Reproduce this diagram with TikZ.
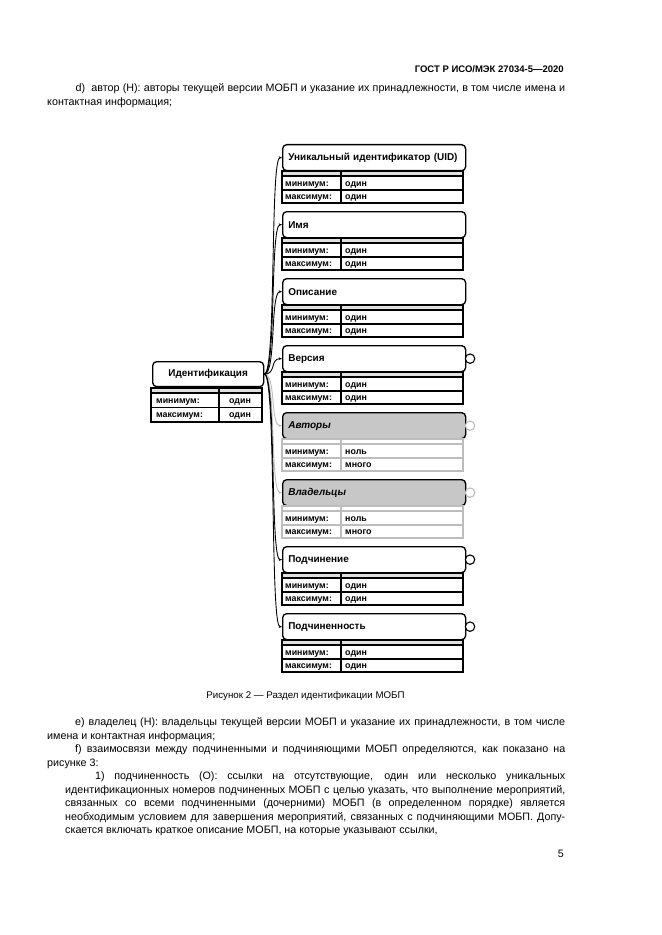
\documentclass[tikz,border=0pt]{standalone}
\usepackage{fontspec}
\setmainfont{Liberation Sans}
\usetikzlibrary{arrows.meta,positioning}
\definecolor{stripgrey}{gray}{0.88}
\definecolor{optgrey}{gray}{0.78}
\definecolor{lightline}{gray}{0.74}
\hyphenpenalty=10000

\begin{document}
\begin{tikzpicture}[x=0.3177mm,y=-0.3177mm,
  hdr/.style={draw,line width=1.2pt,rounded corners=1.3mm,fill=white,anchor=north west,
    minimum height=0.826cm,text width=5.454cm,inner xsep=0.18cm,align=left,
    font=\fontsize{9}{10}\selectfont\bfseries},
  opthdr/.style={hdr,fill=optgrey,font=\fontsize{9}{10}\selectfont\bfseries\itshape},
  tbl/.style={line width=1pt},
  opttbl/.style={line width=1pt,draw=lightline},
  strip/.style={fill=stripgrey},
  cell/.style={anchor=base west,inner sep=0pt,font=\fontsize{8}{8}\selectfont\bfseries},
  port/.style={circle,draw,line width=1pt,fill=white,minimum size=3mm,inner sep=0pt},
  optport/.style={port,draw=lightline},
  conn/.style={line width=0.8pt,-{Stealth[length=3pt,width=2.5pt]}},
  optconn/.style={conn,draw=lightline},
  body/.style={anchor=base west,inner sep=0pt,text width=16.457cm,align=justify,
    font=\fontsize{9.7}{12.25}\selectfont},
  subitem/.style={body,text width=15.885cm}]
\useasboundingbox (0,0) rectangle (661,935);

% page text
\node[anchor=base east,inner sep=0pt,font=\fontsize{8.6}{10}\selectfont\bfseries] (gost) at (564,72.5) {ГОСТ Р ИСО/МЭК 27034-5—2020};
\node[body] (pd) at (47,91.5) {\hspace*{0.9cm}d)\ \ автор (Н): авторы текущей версии МОБП и указание их принадлежности, в том числе имена и\linebreak контактная информация;};

% Identification
\node[hdr,text width=3.167cm,minimum height=0.794cm,align=center] (ident) at (152,361) {Идентификация};
\fill[strip] (151,388) rectangle (262,393);
\draw[tbl] (151,388) rectangle (262,422) (151,393) -- (262,393) (151,407.5) -- (262,407.5) (219,388) -- (219,422);
\node[cell] (ident-min) at (156,403) {минимум:};
\node[cell,anchor=base] (ident-minv) at (240,403) {один};
\node[cell] (ident-max) at (156,417.5) {максимум:};
\node[cell,anchor=base] (ident-maxv) at (240,417.5) {один};

% UID
\begin{scope}[shift={(0,144)}]
\node[hdr] (uid) at (282,0) {Уникальный идентификатор (UID)};
\fill[strip] (282,27) rectangle (463,32);
\draw[tbl] (282,27) rectangle (463,59) (282,32) -- (463,32) (282,46) -- (463,46) (341,27) -- (341,59);
\node[cell] (uid-min) at (285,42) {минимум:};
\node[cell] (uid-minv) at (345,42) {один};
\node[cell] (uid-max) at (285,55.5) {максимум:};
\node[cell] (uid-maxv) at (345,55.5) {один};
\end{scope}

% Name
\begin{scope}[shift={(0,211)}]
\node[hdr] (name) at (282,0) {Имя};
\fill[strip] (282,27) rectangle (463,32);
\draw[tbl] (282,27) rectangle (463,59) (282,32) -- (463,32) (282,46) -- (463,46) (341,27) -- (341,59);
\node[cell] (name-min) at (285,42) {минимум:};
\node[cell] (name-minv) at (345,42) {один};
\node[cell] (name-max) at (285,55.5) {максимум:};
\node[cell] (name-maxv) at (345,55.5) {один};
\end{scope}

% Description
\begin{scope}[shift={(0,278)}]
\node[hdr] (descr) at (282,0) {Описание};
\fill[strip] (282,27) rectangle (463,32);
\draw[tbl] (282,27) rectangle (463,59) (282,32) -- (463,32) (282,46) -- (463,46) (341,27) -- (341,59);
\node[cell] (descr-min) at (285,42) {минимум:};
\node[cell] (descr-minv) at (345,42) {один};
\node[cell] (descr-max) at (285,55.5) {максимум:};
\node[cell] (descr-maxv) at (345,55.5) {один};
\end{scope}

% Version
\begin{scope}[shift={(0,345)}]
\node[hdr] (version) at (282,0) {Версия};
\node[port,right=-0.5mm of version] (version-p) {};
\fill[strip] (282,27) rectangle (463,32);
\draw[tbl] (282,27) rectangle (463,59) (282,32) -- (463,32) (282,46) -- (463,46) (341,27) -- (341,59);
\node[cell] (version-min) at (285,42) {минимум:};
\node[cell] (version-minv) at (345,42) {один};
\node[cell] (version-max) at (285,55.5) {максимум:};
\node[cell] (version-maxv) at (345,55.5) {один};
\end{scope}

% Authors (optional)
\begin{scope}[shift={(0,412)}]
\node[opthdr] (authors) at (282,0) {Авторы};
\node[optport,right=-0.5mm of authors] (authors-p) {};
\draw[opttbl] (282,27) rectangle (463,59) (282,32) -- (463,32) (282,46) -- (463,46) (341,27) -- (341,59);
\node[cell] (authors-min) at (285,42) {минимум:};
\node[cell] (authors-minv) at (345,42) {ноль};
\node[cell] (authors-max) at (285,55.5) {максимум:};
\node[cell] (authors-maxv) at (345,55.5) {много};
\end{scope}

% Owners (optional)
\begin{scope}[shift={(0,479)}]
\node[opthdr] (owners) at (282,0) {Владельцы};
\node[optport,right=-0.5mm of owners] (owners-p) {};
\draw[opttbl] (282,27) rectangle (463,59) (282,32) -- (463,32) (282,46) -- (463,46) (341,27) -- (341,59);
\node[cell] (owners-min) at (285,42) {минимум:};
\node[cell] (owners-minv) at (345,42) {ноль};
\node[cell] (owners-max) at (285,55.5) {максимум:};
\node[cell] (owners-maxv) at (345,55.5) {много};
\end{scope}

% Subordination
\begin{scope}[shift={(0,546)}]
\node[hdr] (sub) at (282,0) {Подчинение};
\node[port,right=-0.5mm of sub] (sub-p) {};
\fill[strip] (282,27) rectangle (463,32);
\draw[tbl] (282,27) rectangle (463,59) (282,32) -- (463,32) (282,46) -- (463,46) (341,27) -- (341,59);
\node[cell] (sub-min) at (285,42) {минимум:};
\node[cell] (sub-minv) at (345,42) {один};
\node[cell] (sub-max) at (285,55.5) {максимум:};
\node[cell] (sub-maxv) at (345,55.5) {один};
\end{scope}

% Subordinate
\begin{scope}[shift={(0,613)}]
\node[hdr] (subof) at (282,0) {Подчиненность};
\node[port,right=-0.5mm of subof] (subof-p) {};
\fill[strip] (282,27) rectangle (463,32);
\draw[tbl] (282,27) rectangle (463,59) (282,32) -- (463,32) (282,46) -- (463,46) (341,27) -- (341,59);
\node[cell] (subof-min) at (285,42) {минимум:};
\node[cell] (subof-minv) at (345,42) {один};
\node[cell] (subof-max) at (285,55.5) {максимум:};
\node[cell] (subof-maxv) at (345,55.5) {один};
\end{scope}

% connectors
\draw[optconn] (ident.east) .. controls +(12,0) and +(-12,0) .. (authors.west);
\draw[optconn] (ident.east) .. controls +(12,0) and +(-12,0) .. (owners.west);
\draw[conn] (ident.east) .. controls +(12,0) and +(-12,0) .. (uid.west);
\draw[conn] (ident.east) .. controls +(12,0) and +(-12,0) .. (name.west);
\draw[conn] (ident.east) .. controls +(12,0) and +(-12,0) .. (descr.west);
\draw[conn] (ident.east) .. controls +(12,0) and +(-12,0) .. (version.west);
\draw[conn] (ident.east) .. controls +(12,0) and +(-12,0) .. (sub.west);
\draw[conn] (ident.east) .. controls +(12,0) and +(-12,0) .. (subof.west);

\node[anchor=base,inner sep=0pt,font=\fontsize{8.8}{10}\selectfont] (cap) at (305.5,698.5) {Рисунок 2 — Раздел идентификации МОБП};

\node[body] (pe) at (47,725.5) {\hspace*{0.89cm}e) владелец (Н): владельцы текущей версии МОБП и указание их принадлежности, в том числе\linebreak имена и контактная информация;};
\node[body] (pf) at (47,752.5) {\hspace*{0.89cm}f) взаимосвязи между подчиненными и подчиняющими МОБП определяются, как показано на\linebreak рисунке 3:};
\node[subitem] (p1) at (65,779.5) {\hspace*{0.95cm}1) подчиненность (О): ссылки на отсутствующие, один или несколько уникальных\linebreak идентификационных номеров подчиненных МОБП с целью указать, что выполнение мероприятий,\linebreak связанных со всеми подчиненными (дочерними) МОБП (в определенном порядке) является\linebreak необходимым условием для завершения мероприятий, связанных с подчиняющими МОБП. Допу-\linebreak скается включать краткое описание МОБП, на которые указывают ссылки,};
\node[anchor=base east,inner sep=0pt,font=\fontsize{9.7}{10}\selectfont] (pagenum) at (564,857) {5};
\end{tikzpicture}
\end{document}
